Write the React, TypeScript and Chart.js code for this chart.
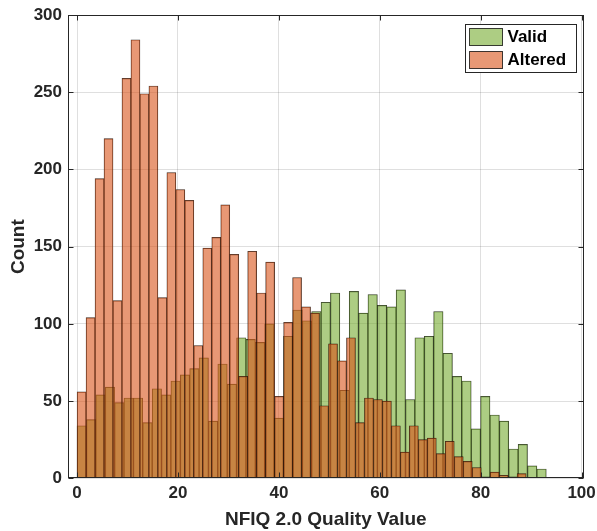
import React, { useEffect, useRef } from "react";
import { Chart, registerables } from "chart.js";

Chart.register(...registerables);

// ---- data ----
const SERIES_LABELS = ["Valid", "Altered"];
const VALID_COUNTS = [
  34, 38, 54, 59, 49, 52, 52, 36, 58, 54, 63, 67, 71, 78, 37, 74, 61, 91, 90, 88,
  100, 39, 92, 109, 102, 108, 114, 120, 57, 121, 107, 119, 112, 111, 122, 51, 91, 92, 108, 81,
  66, 63, 32, 53, 41, 37, 19, 22, 8, 6,
];
const ALTERED_COUNTS = [
  56, 104, 194, 220, 115, 259, 284, 249, 254, 117, 198, 187, 180, 86, 149, 156, 177, 145, 66, 147,
  120, 140, 53, 101, 130, 111, 107, 47, 87, 76, 91, 36, 52, 51, 50, 34, 17, 34, 25, 26,
  16, 24, 14, 11, 7, 1, 4, 2, 1, 3,
];
const VALID_BIN_START = 0;
const VALID_BIN_WIDTH = 1.86;
const ALTERED_BIN_START = 0;
const ALTERED_BIN_WIDTH = 1.78;
const X_TICKS = [0, 20, 40, 60, 80, 100];
const Y_TICKS = [0, 50, 100, 150, 200, 250, 300];
const X_TITLE = "NFIQ 2.0 Quality Value";
const Y_TITLE = "Count";

// ---- styles ----
const FONT = '"Liberation Sans", Arial, Helvetica, sans-serif';
const INK = "#262626";
const GRID = "rgba(38,38,38,0.15)";
const VALID_FILL = "rgba(119,172,48,0.6)";
const ALTERED_FILL = "rgba(217,83,25,0.6)";
const EDGE = "rgba(0,0,0,0.8)";
const X_MIN = -1.8;
const X_MAX = 100.4;

const toBins = (counts: number[], start: number, width: number) =>
  counts.map((c, i) => ({ x: start + (i + 0.5) * width, y: c }));

const boxPlugin = {
  id: "matlabBox",
  afterDatasetsDraw(chart: any) {
    const { ctx, chartArea: a, scales } = chart;
    ctx.save();
    ctx.strokeStyle = INK;
    ctx.lineWidth = 1;
    const L = Math.round(a.left) + 0.5;
    const R = Math.round(a.right) - 0.5;
    const T = Math.round(a.top) + 0.5;
    const B = Math.round(a.bottom) - 0.5;
    ctx.strokeRect(L, T, R - L, B - T);
    const len = 5;
    ctx.beginPath();
    for (const v of X_TICKS) {
      const px = Math.round(scales.x.getPixelForValue(v)) + 0.5;
      ctx.moveTo(px, B);
      ctx.lineTo(px, B - len);
      ctx.moveTo(px, T);
      ctx.lineTo(px, T + len);
    }
    for (const v of Y_TICKS) {
      const py = Math.round(scales.y.getPixelForValue(v)) + 0.5;
      ctx.moveTo(L, py);
      ctx.lineTo(L + len, py);
      ctx.moveTo(R, py);
      ctx.lineTo(R - len, py);
    }
    ctx.stroke();
    ctx.restore();
  },
};

const legendPlugin = {
  id: "insideLegend",
  afterDraw(chart: any) {
    const { ctx, chartArea: a } = chart;
    const boxW = 111;
    const boxH = 48;
    const left = Math.round(a.right - 8 - boxW) + 0.5;
    const top = Math.round(a.top + 9) + 0.5;
    ctx.save();
    ctx.fillStyle = "#ffffff";
    ctx.fillRect(left, top, boxW, boxH);
    ctx.strokeStyle = INK;
    ctx.lineWidth = 1;
    ctx.strokeRect(left, top, boxW, boxH);
    const datasets = chart.data.datasets;
    datasets.forEach((ds: any, i: number) => {
      const sx = left + 4;
      const sy = top + 4 + i * 23;
      ctx.fillStyle = ds.backgroundColor;
      ctx.fillRect(sx, sy, 33, 17);
      ctx.strokeStyle = "rgba(0,0,0,0.75)";
      ctx.strokeRect(sx, sy, 33, 17);
      ctx.fillStyle = "#000000";
      ctx.font = `bold 17px ${FONT}`;
      ctx.textBaseline = "middle";
      ctx.textAlign = "left";
      ctx.fillText(ds.label, sx + 38, sy + 9);
    });
    ctx.restore();
  },
};

export default function App() {
  const ref = useRef<HTMLCanvasElement>(null);

  useEffect(() => {
    const tickFont = { family: FONT, size: 17, weight: "bold" as const };
    const titleFont = { family: FONT, size: 19, weight: "bold" as const };
    const barCommon = {
      borderColor: EDGE,
      borderWidth: { top: 0.5, left: 0.5, right: 0.5, bottom: 0 },
      borderSkipped: "start" as const,
      barPercentage: 1,
      categoryPercentage: 1,
      grouped: false,
    };
    const chart = new Chart(ref.current as HTMLCanvasElement, {
      type: "bar",
      data: {
        datasets: [
          {
            label: SERIES_LABELS[0],
            data: toBins(VALID_COUNTS, VALID_BIN_START, VALID_BIN_WIDTH) as any,
            xAxisID: "x",
            backgroundColor: VALID_FILL,
            order: 2,
            ...barCommon,
          },
          {
            label: SERIES_LABELS[1],
            data: toBins(ALTERED_COUNTS, ALTERED_BIN_START, ALTERED_BIN_WIDTH) as any,
            xAxisID: "x2",
            backgroundColor: ALTERED_FILL,
            order: 1,
            ...barCommon,
          },
        ],
      },
      options: {
        responsive: false,
        animation: false,
        devicePixelRatio: 1,
        layout: { padding: { left: 0, right: 13.4, top: 15, bottom: 0 } },
        plugins: { legend: { display: false }, tooltip: { enabled: false } },
        scales: {
          x: {
            type: "linear",
            position: "bottom",
            min: X_MIN,
            max: X_MAX,
            offset: false,
            grid: { color: GRID, drawTicks: false, offset: false, lineWidth: 1 },
            border: { display: false },
            ticks: { font: tickFont, color: INK, padding: 5, maxRotation: 0 },
            afterBuildTicks: (s: any) => {
              s.ticks = X_TICKS.map((v) => ({ value: v }));
            },
            afterFit: (s: any) => {
              s.height = 52.7;
              s.paddingLeft = 0;
              s.paddingRight = 0;
            },
            title: {
              display: true,
              text: X_TITLE,
              font: titleFont,
              color: INK,
              padding: { top: 0, bottom: 0 },
            },
          },
          x2: {
            type: "linear",
            min: X_MIN,
            max: X_MAX,
            offset: false,
            display: false,
            grid: { offset: false },
          },
          y: {
            type: "linear",
            min: 0,
            max: 300,
            grid: { color: GRID, drawTicks: false, lineWidth: 1 },
            border: { display: false },
            ticks: { font: tickFont, color: INK, padding: 6 },
            afterBuildTicks: (s: any) => {
              s.ticks = Y_TICKS.map((v) => ({ value: v }));
            },
            afterFit: (s: any) => {
              s.width = 68;
              s.paddingTop = 0;
              s.paddingBottom = 0;
            },
            title: {
              display: true,
              text: Y_TITLE,
              font: titleFont,
              color: INK,
              padding: { top: 7, bottom: 0 },
            },
          },
        },
      } as any,
      plugins: [boxPlugin, legendPlugin],
    });
    return () => chart.destroy();
  }, []);

  return (
    <div style={{ position: "absolute", left: 0, top: 0, width: 597, height: 531, background: "#ffffff" }}>
      <canvas ref={ref} width={597} height={531} style={{ display: "block", width: 597, height: 531 }} />
    </div>
  );
}
